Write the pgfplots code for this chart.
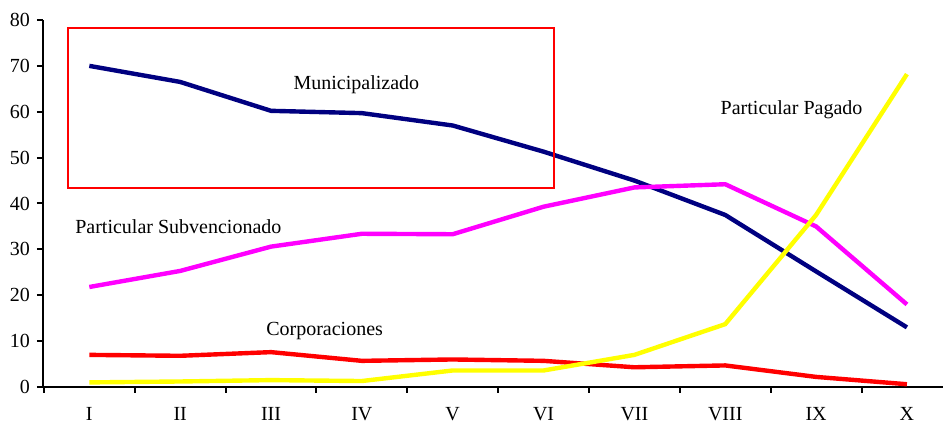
\documentclass[border=0pt]{standalone}
\usepackage{pgfplots}
\pgfplotsset{compat=1.18}
\usepackage{fontspec}
\setmainfont{Liberation Serif}
\definecolor{navyc}{RGB}{0,0,128}
\definecolor{magc}{RGB}{255,0,255}
\definecolor{redc}{RGB}{255,0,0}
\definecolor{yelc}{RGB}{255,255,0}
\begin{document}
\fontsize{10}{12}\selectfont
\begin{tikzpicture}
\begin{axis}[
  scale only axis,
  width=450pt, height=183.5pt,
  xmin=0.49, xmax=10.397, ymin=0, ymax=80,
  axis x line=bottom, axis y line=left,
  axis line style={-, line width=1pt, black},
  xtick={1,...,10},
  xticklabels={I,II,III,IV,V,VI,VII,VIII,IX,X},
  minor xtick={0.5,1.5,...,9.5},
  ytick={0,10,...,80},
  tick align=outside,
  major x tick style={draw=none},
  minor tick length=3pt, major tick length=3pt,
  tick style={line width=1pt, black},
  /pgf/number format/assume math mode=true,
  tick label style={font=\fontsize{10}{12}\selectfont},
  xticklabel style={yshift=-3.5pt},
  clip=false,
]
\addplot[navyc, line width=2.2pt] coordinates {(1,70) (2,66.5) (3,60.2) (4,59.7) (5,57) (6,51.3) (7,45) (8,37.5) (9,25.2) (10,13)};
\addplot[magc, line width=2.2pt] coordinates {(1,21.8) (2,25.3) (3,30.6) (4,33.4) (5,33.3) (6,39.3) (7,43.5) (8,44.2) (9,35) (10,18)};
\addplot[redc, line width=2.2pt] coordinates {(1,7) (2,6.8) (3,7.6) (4,5.7) (5,6) (6,5.7) (7,4.3) (8,4.7) (9,2.2) (10,0.6)};
\addplot[yelc, line width=2.2pt] coordinates {(1,1.0) (2,1.2) (3,1.5) (4,1.3) (5,3.6) (6,3.6) (7,7) (8,13.7) (9,37.5) (10,68.2)};
\draw[redc, line width=1pt] (axis cs:0.77,43.4) rectangle (axis cs:6.12,78.3);
\node at (axis cs:3.94,66) {Municipalizado};
\node at (axis cs:8.73,60.4) {Particular Pagado};
\node at (axis cs:1.98,34.9) {Particular Subvencionado};
\node at (axis cs:3.59,12.2) {Corporaciones};
\coordinate (bl) at (rel axis cs:-0.04778,-0.0981);
\coordinate (tr) at (rel axis cs:1.00111,1.0545);
\end{axis}
\pgfresetboundingbox
\path[use as bounding box] (bl) rectangle (tr);
\end{tikzpicture}
\end{document}
